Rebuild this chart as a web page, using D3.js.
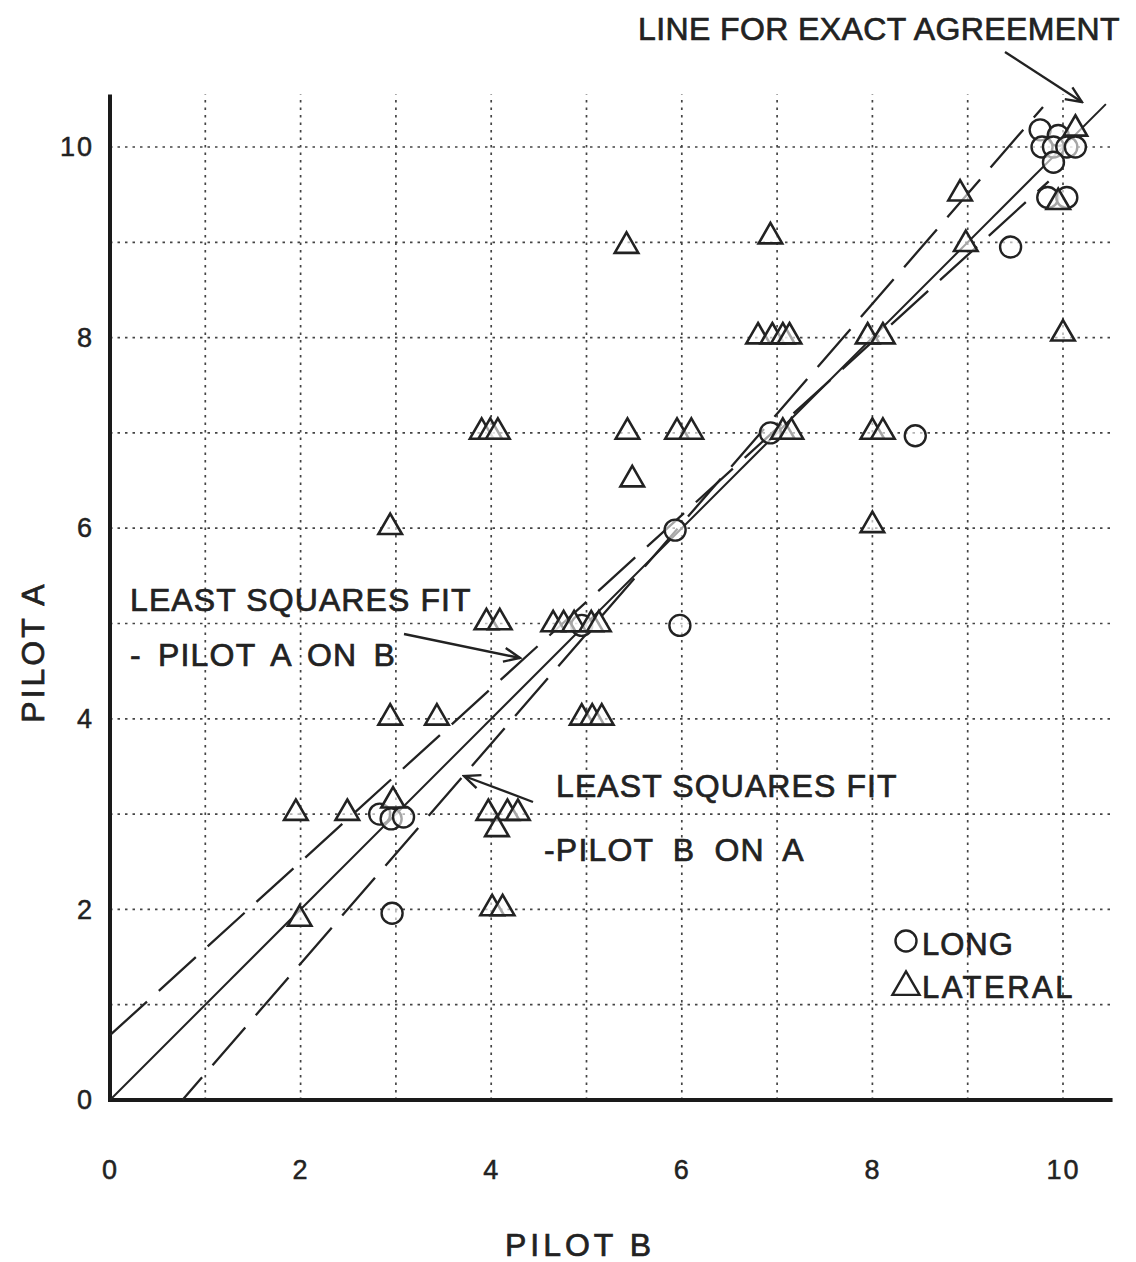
<!DOCTYPE html>
<html>
<head>
<meta charset="utf-8">
<script src="https://cdn.jsdelivr.net/npm/d3@7"></script>
<style>
  body { margin: 0; background: #fff; }
  text { font-family: "Liberation Sans", Arial, sans-serif; fill: #222; }
  .lbl { stroke: #222; stroke-width: 0.7; }
</style>
</head>
<body>
<div id="chart"></div>
<script>
// Datos: [Pilot B, Pilot A]
const longPoints = [
  [9.76, 10.18], [9.95, 10.12], [9.78, 10.0], [9.9, 10.0], [10.04, 10.0], [10.13, 10.0],
  [9.9, 9.84], [9.84, 9.47], [10.04, 9.47], [9.45, 8.95],
  [6.93, 7.0], [8.45, 6.97], [5.93, 5.98], [5.98, 4.98], [4.95, 4.98],
  [2.83, 3.0], [2.95, 2.95], [3.08, 2.97], [2.96, 1.96]
]
const lateralPoints = [
  [10.13, 10.18], [9.95, 9.41], [8.92, 9.5], [8.98, 8.97], [10.0, 8.03],
  [5.42, 8.95], [6.93, 9.05],
  [6.8, 8], [6.95, 8], [7.06, 8], [7.13, 8], [7.95, 8], [8.11, 8],
  [3.9, 7], [3.99, 7], [4.07, 7], [5.43, 7], [5.95, 7], [6.1, 7],
  [7.06, 7], [7.15, 7], [8.0, 7], [8.11, 7],
  [5.48, 6.5], [2.94, 6.0], [8.0, 6.02],
  [3.95, 5], [4.09, 5], [4.65, 4.98], [4.76, 4.98], [4.87, 4.98], [5.05, 4.98], [5.13, 4.98],
  [2.94, 4], [3.43, 4], [4.95, 4], [5.06, 4], [5.16, 4],
  [1.95, 3], [2.49, 3], [2.97, 3.13], [3.97, 3], [4.17, 3], [4.28, 3], [4.06, 2.83],
  [1.99, 1.89], [4.01, 2], [4.12, 2]
]
// Lineas: acuerdo exacto y ajustes por minimos cuadrados
const exactLine = [[0, 0], [10.45, 10.45]]
const fitAonB = [[0, 0.68], [9.85, 9.64]]
const fitBonA = [[0.76, 0], [9.79, 10.42]]

const xTicks = [0, 2, 4, 6, 8, 10]
const yTicks = [0, 2, 4, 6, 8, 10]
const gridValues = [1, 2, 3, 4, 5, 6, 7, 8, 9, 10]

const width = 1136, height = 1262

const x = d3.scaleLinear().domain([0, 10]).range([110, 1063])
const y = d3.scaleLinear().domain([0, 10]).range([1100, 147])

const svg = d3.select("#chart").append("svg")
  .attr("width", width)
  .attr("height", height)

const defs = svg.append("defs")
defs.append("marker")
  .attr("id", "arrow")
  .attr("viewBox", "0 0 20 20")
  .attr("refX", 18).attr("refY", 10)
  .attr("markerWidth", 20).attr("markerHeight", 20)
  .attr("markerUnits", "userSpaceOnUse")
  .attr("orient", "auto")
  .append("path")
  .attr("d", "M2,3 L18,10 L2,17")
  .attr("fill", "none")
  .attr("stroke", "#222")
  .attr("stroke-width", 2.4)

// Rejilla punteada
svg.append("g").selectAll("line")
  .data(gridValues)
  .join("line")
  .attr("x1", d => x(d)).attr("x2", d => x(d))
  .attr("y1", y(0)).attr("y2", y(10.55))
  .attr("stroke", "#444").attr("stroke-width", 1.7)
  .attr("stroke-dasharray", "2.5,5")

svg.append("g").selectAll("line")
  .data(gridValues)
  .join("line")
  .attr("y1", d => y(d)).attr("y2", d => y(d))
  .attr("x1", x(0)).attr("x2", x(10.52))
  .attr("stroke", "#444").attr("stroke-width", 1.7)
  .attr("stroke-dasharray", "2.5,5")

// Ejes
const xAxis = svg.append("g")
  .attr("transform", `translate(0,${y(0)})`)
  .call(d3.axisBottom(x).tickValues(xTicks).tickSize(0).tickPadding(60).tickFormat(d3.format("d")))
xAxis.select(".domain").remove()
xAxis.selectAll("text").attr("font-size", 27).attr("fill", "#222")
  .attr("stroke", "#222").attr("stroke-width", 0.5).attr("letter-spacing", 2)

const yAxis = svg.append("g")
  .attr("transform", `translate(${x(0)},0)`)
  .call(d3.axisLeft(y).tickValues(yTicks).tickSize(0).tickPadding(16).tickFormat(d3.format("d")))
yAxis.select(".domain").remove()
yAxis.selectAll("text").attr("font-size", 27).attr("fill", "#222")
  .attr("stroke", "#222").attr("stroke-width", 0.5).attr("letter-spacing", 2)

svg.append("line")
  .attr("x1", x(0) - 2).attr("x2", x(10.52))
  .attr("y1", y(0)).attr("y2", y(0))
  .attr("stroke", "#1a1a1a").attr("stroke-width", 4)
svg.append("line")
  .attr("x1", x(0)).attr("x2", x(0))
  .attr("y1", y(0) + 2).attr("y2", y(10.55))
  .attr("stroke", "#1a1a1a").attr("stroke-width", 4)

// Lineas
const line = d3.line().x(d => x(d[0])).y(d => y(d[1]))
svg.append("path").datum(exactLine)
  .attr("d", line).attr("fill", "none")
  .attr("stroke", "#222").attr("stroke-width", 2)
svg.append("path").datum(fitAonB)
  .attr("d", line).attr("fill", "none")
  .attr("stroke", "#222").attr("stroke-width", 2.3)
  .attr("stroke-dasharray", "50,16")
svg.append("path").datum(fitBonA)
  .attr("d", line).attr("fill", "none")
  .attr("stroke", "#222").attr("stroke-width", 2.3)
  .attr("stroke-dasharray", "50,16").attr("stroke-dashoffset", 20)

// Puntos
svg.append("g").selectAll("circle")
  .data(longPoints)
  .join("circle")
  .attr("cx", d => x(d[0])).attr("cy", d => y(d[1]))
  .attr("r", 10.5)
  .attr("fill", "#fff").attr("fill-opacity", 0.6)
  .attr("stroke", "#222").attr("stroke-width", 2.4)

const tri = d3.symbol().type(d3.symbolTriangle).size(240)
svg.append("g").selectAll("path")
  .data(lateralPoints)
  .join("path")
  .attr("transform", d => `translate(${x(d[0])},${y(d[1]) - 1})`)
  .attr("d", tri)
  .attr("fill", "#fff").attr("fill-opacity", 0.6)
  .attr("stroke", "#222").attr("stroke-width", 2.6)
  .attr("stroke-linejoin", "miter")

// Etiquetas de ejes
svg.append("text")
  .attr("class", "lbl")
  .attr("x", 580).attr("y", 1256)
  .attr("text-anchor", "middle")
  .attr("font-size", 32).attr("letter-spacing", 4)
  .text("PILOT B")
svg.append("text")
  .attr("class", "lbl")
  .attr("transform", "translate(44,652) rotate(-90)")
  .attr("text-anchor", "middle")
  .attr("font-size", 32).attr("letter-spacing", 3)
  .text("PILOT A")

// Anotaciones
const label = (tx, ty, str, ls, ws) => svg.append("text")
  .attr("class", "lbl")
  .attr("x", tx).attr("y", ty)
  .attr("font-size", 32)
  .attr("letter-spacing", ls)
  .attr("word-spacing", ws)
  .text(str)

label(638, 40, "LINE FOR EXACT AGREEMENT", 0.4, 0)
label(130, 611, "LEAST SQUARES FIT", 1.1, 0)
label(130, 666, "- PILOT A ON B", 1.2, 6)
label(556, 797, "LEAST SQUARES FIT", 1.1, 0)
label(544, 861, "-PILOT B ON A", 1.2, 9)

const arrow = (x1, y1, x2, y2) => svg.append("line")
  .attr("x1", x1).attr("y1", y1).attr("x2", x2).attr("y2", y2)
  .attr("stroke", "#222").attr("stroke-width", 2.4)
  .attr("marker-end", "url(#arrow)")

arrow(1005, 52, 1082, 102)
arrow(404, 634, 520, 658)
arrow(533, 802, 464, 776)

// Leyenda
svg.append("circle")
  .attr("cx", 906).attr("cy", 941).attr("r", 10.5)
  .attr("fill", "none").attr("stroke", "#222").attr("stroke-width", 2.4)
svg.append("path")
  .attr("transform", "translate(906,987)")
  .attr("d", d3.symbol().type(d3.symbolTriangle).size(320))
  .attr("fill", "none").attr("stroke", "#222").attr("stroke-width", 2.4)
svg.append("text").attr("class", "lbl").attr("x", 922).attr("y", 955)
  .attr("font-size", 31).attr("letter-spacing", 1).text("LONG")
svg.append("text").attr("class", "lbl").attr("x", 922).attr("y", 998)
  .attr("font-size", 31).attr("letter-spacing", 2.5).text("LATERAL")
</script>
</body>
</html>
